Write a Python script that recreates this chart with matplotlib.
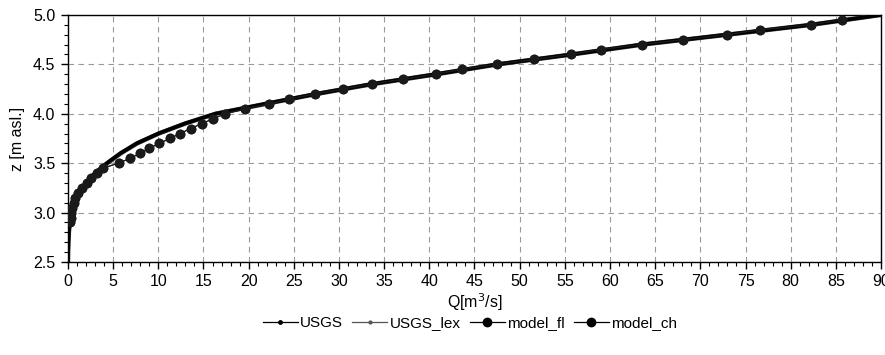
import matplotlib
matplotlib.use("Agg")
import matplotlib.pyplot as plt
from matplotlib.ticker import MultipleLocator, FormatStrFormatter
from matplotlib.lines import Line2D

plt.rcParams['font.family'] = ['Liberation Sans', 'DejaVu Sans']

# USGS rating curve (z, Q)
usgs_z = [2.50, 2.60, 2.70, 2.80, 2.90, 3.00, 3.10, 3.20, 3.30, 3.40, 3.50,
          3.60, 3.70, 3.80, 3.90, 4.00, 4.10, 4.20, 4.30, 4.40, 4.50, 4.60,
          4.70, 4.80, 4.90, 5.00]
usgs_q = [0.0, 0.02, 0.05, 0.1, 0.2, 0.35, 0.7, 1.2, 2.0, 3.0, 4.3,
          5.8, 7.6, 10.0, 12.9, 16.3, 21.8, 27.4, 33.6, 40.7, 47.5, 55.7,
          63.5, 72.9, 82.2, 90.0]
usgs_lex_z = usgs_z
usgs_lex_q = [0.0, 0.02, 0.05, 0.1, 0.2, 0.36, 0.72, 1.25, 2.05, 3.05, 4.35,
              5.85, 7.65, 10.05, 12.95, 16.35, 21.9, 27.5, 33.7, 40.8, 47.6, 55.8,
              63.6, 73.0, 82.3, 90.0]

# model rating (z, Q)
model_z = [2.90, 2.95, 3.00, 3.05, 3.10, 3.15, 3.20, 3.25, 3.30, 3.35, 3.40,
           3.45, 3.50, 3.55, 3.60, 3.65, 3.70, 3.75, 3.80, 3.85, 3.90, 3.95,
           4.00, 4.05, 4.10, 4.15, 4.20, 4.25, 4.30, 4.35, 4.40, 4.45, 4.50,
           4.55, 4.60, 4.65, 4.70, 4.75, 4.80, 4.85, 4.90, 4.95]
model_fl_q = [0.25, 0.3, 0.35, 0.5, 0.65, 0.8, 1.1, 1.6, 2.1, 2.6, 3.2,
              3.9, 5.6, 6.9, 8.0, 9.0, 10.1, 11.3, 12.4, 13.6, 14.8, 16.1,
              17.4, 19.6, 22.3, 24.5, 27.4, 30.4, 33.6, 37.1, 40.7, 43.6, 47.5,
              51.6, 55.7, 59.0, 63.5, 68.1, 72.9, 76.6, 82.2, 85.7]
model_ch_q = model_fl_q

fig = plt.figure(figsize=(8.85, 3.55), dpi=100)
ax = fig.add_axes([0.0768, 0.262, 0.9187, 0.696])

ax.plot(usgs_lex_q, usgs_lex_z, color='#3a3a3a', lw=3.2, zorder=3)
ax.plot(usgs_q, usgs_z, color='black', lw=2.6, zorder=3)
ax.plot(model_fl_q, model_z, color='#1a1a1a', lw=0.8, marker='o', ms=6, zorder=4)
ax.plot(model_ch_q, model_z, color='#1a1a1a', lw=0.8, marker='o', ms=6, zorder=4)

ax.set_xlim(0, 90)
ax.set_ylim(2.5, 5.0)
ax.xaxis.set_major_locator(MultipleLocator(5))
ax.xaxis.set_minor_locator(MultipleLocator(1))
ax.yaxis.set_major_locator(MultipleLocator(0.5))
ax.yaxis.set_minor_locator(MultipleLocator(0.1))
ax.yaxis.set_major_formatter(FormatStrFormatter('%.1f'))
ax.tick_params(which='major', length=5, width=1, labelsize=11.5, direction='out', pad=4)
ax.tick_params(which='minor', length=3, width=0.8, direction='out')
ax.grid(True, which='major', color='#999999', linestyle=(0, (5, 4)), lw=0.8)
for s in ax.spines.values():
    s.set_color('black')
    s.set_linewidth(1.0)

ax.set_xlabel('Q[m$^3$/s]', fontsize=11.5, labelpad=1)
ax.set_ylabel('z [m asl.]', fontsize=11.5, labelpad=6)

handles = [
    Line2D([], [], color='black', lw=0.9, marker='o', ms=2.5),
    Line2D([], [], color='#555555', lw=0.9, marker='o', ms=2),
    Line2D([], [], color='black', lw=0.9, marker='o', ms=6),
    Line2D([], [], color='black', lw=0.9, marker='o', ms=6),
]
labels = ['USGS', 'USGS_lex', 'model_fl', 'model_ch']
fig.legend(handles, labels, loc='center', bbox_to_anchor=(0.531, 0.09), ncol=4,
           frameon=False, fontsize=11, handlelength=2.3, handletextpad=0.15,
           columnspacing=0.6, borderaxespad=0, borderpad=0)

fig.savefig('out.png', dpi=100)
